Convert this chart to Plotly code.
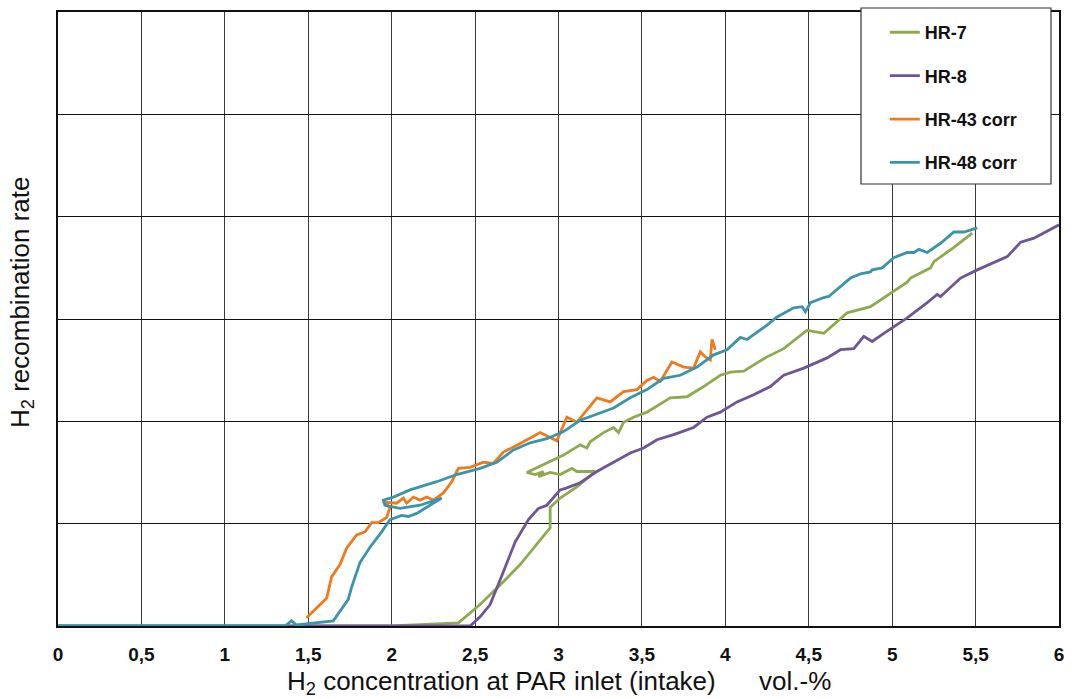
import plotly.graph_objects as go

# HR-7
hr7_x = [0, 2.0, 2.40, 2.53, 2.65, 2.77, 2.95, 2.95, 3.01, 3.11, 3.22, 3.11, 3.08, 3.01, 2.95, 2.88, 2.91, 2.86, 2.81,
         2.93, 3.03, 3.13, 3.17, 3.19, 3.27, 3.33, 3.36, 3.39, 3.45, 3.53, 3.57, 3.67, 3.77, 3.87, 3.97, 4.03, 4.11,
         4.25, 4.35, 4.49, 4.59, 4.73, 4.87, 4.97, 5.09, 5.11, 5.23, 5.25, 5.37, 5.48]
hr7_y = [0, 0, 0.03, 0.21, 0.40, 0.60, 0.96, 1.16, 1.25, 1.36, 1.51, 1.51, 1.54, 1.48, 1.50, 1.46, 1.51, 1.48, 1.50,
         1.59, 1.67, 1.77, 1.74, 1.80, 1.89, 1.94, 1.89, 1.99, 2.04, 2.09, 2.13, 2.23, 2.24, 2.34, 2.45, 2.48, 2.49,
         2.63, 2.71, 2.89, 2.86, 3.06, 3.12, 3.23, 3.36, 3.40, 3.50, 3.56, 3.70, 3.84]

# HR-8
hr8_x = [0, 2.47, 2.53, 2.59, 2.65, 2.74, 2.82, 2.88, 2.93, 3.01, 3.05, 3.13, 3.23, 3.33, 3.43, 3.51, 3.59, 3.69,
         3.81, 3.89, 3.97, 4.07, 4.17, 4.27, 4.35, 4.47, 4.61, 4.69, 4.77, 4.83, 4.88, 4.95, 5.09, 5.21, 5.27, 5.29,
         5.41, 5.51, 5.69, 5.77, 5.85, 6.0]
hr8_y = [0, 0, 0.09, 0.21, 0.45, 0.82, 1.04, 1.15, 1.18, 1.33, 1.35, 1.40, 1.51, 1.60, 1.69, 1.74, 1.82, 1.87,
         1.94, 2.04, 2.09, 2.19, 2.26, 2.34, 2.45, 2.52, 2.62, 2.70, 2.71, 2.83, 2.78, 2.86, 3.01, 3.16, 3.24, 3.22,
         3.40, 3.48, 3.61, 3.75, 3.79, 3.92]

# HR-43 corr
hr43_x = [1.49, 1.55, 1.61, 1.64, 1.69, 1.73, 1.79, 1.84, 1.88, 1.92, 1.97, 1.99, 1.95, 2.03, 2.07, 2.09, 2.13, 2.17,
          2.21, 2.25, 2.31, 2.36, 2.40, 2.47, 2.55, 2.61, 2.67, 2.79, 2.89, 2.99, 3.05, 3.11, 3.23, 3.31, 3.39, 3.47,
          3.53, 3.57, 3.61, 3.68, 3.75, 3.81, 3.85, 3.88, 3.91, 3.92, 3.94]
hr43_y = [0.08, 0.18, 0.27, 0.48, 0.60, 0.76, 0.89, 0.92, 1.01, 1.01, 1.06, 1.16, 1.21, 1.20, 1.25, 1.20, 1.26, 1.23,
          1.26, 1.23, 1.30, 1.41, 1.54, 1.55, 1.60, 1.59, 1.70, 1.80, 1.89, 1.81, 2.04, 1.99, 2.23, 2.19, 2.29, 2.31,
          2.40, 2.43, 2.39, 2.58, 2.53, 2.52, 2.68, 2.63, 2.60, 2.80, 2.70]

# HR-48 corr
hr48_x = [0, 1.36, 1.40, 1.43, 1.65, 1.74, 1.76, 1.81, 1.87, 1.94, 1.99, 2.06, 2.10, 2.15, 2.21, 2.30, 2.17, 2.05,
          1.96, 1.95, 2.01, 2.11, 2.27, 2.39, 2.53, 2.63, 2.73, 2.83, 2.93, 3.03, 3.13, 3.23, 3.33, 3.43, 3.53, 3.63,
          3.73, 3.83, 3.93, 4.01, 4.09, 4.13, 4.25, 4.31, 4.41, 4.46, 4.48, 4.51, 4.59, 4.62, 4.75, 4.81, 4.87, 4.88,
          4.94, 5.01, 5.09, 5.13, 5.16, 5.21, 5.29, 5.37, 5.43, 5.51]
hr48_y = [0, 0, 0.05, 0.01, 0.05, 0.26, 0.38, 0.62, 0.77, 0.92, 1.04, 1.08, 1.07, 1.10, 1.16, 1.25, 1.18, 1.15,
          1.18, 1.23, 1.26, 1.33, 1.41, 1.48, 1.54, 1.60, 1.72, 1.79, 1.83, 1.90, 2.01, 2.07, 2.13, 2.23, 2.31, 2.42,
          2.45, 2.53, 2.65, 2.70, 2.82, 2.80, 2.94, 3.02, 3.11, 3.12, 3.07, 3.16, 3.21, 3.22, 3.40, 3.44, 3.46, 3.48,
          3.50, 3.60, 3.65, 3.65, 3.68, 3.65, 3.74, 3.85, 3.85, 3.89]

x_title = "H<sub>2</sub> concentration at PAR inlet (intake)" + "\u00a0" * 6 + "vol.-%"
y_title = "H<sub>2</sub> recombination rate"

series = [
    ("HR-7", hr7_x, hr7_y, "#8DAA4F"),
    ("HR-8", hr8_x, hr8_y, "#6E5596"),
    ("HR-43 corr", hr43_x, hr43_y, "#EE7A1B"),
    ("HR-48 corr", hr48_x, hr48_y, "#3A94AC"),
]

fig = go.Figure()
for i, (name, xs, ys, col) in enumerate(series):
    fig.add_trace(go.Scatter(x=xs, y=ys, mode="lines", name=name, legendgroup=str(i),
                             line=dict(color=col, width=2.8)))

font_family = "Liberation Sans, Arial, sans-serif"
W, H = 1073, 699
ML, MR, MT, MB = 58, 14, 12, 73

fig.update_layout(
    width=W, height=H,
    margin=dict(l=ML, r=MR, t=MT, b=MB, autoexpand=False),
    paper_bgcolor="white", plot_bgcolor="white",
    separators=", ",
    font=dict(family=font_family, color="#111111"),
    showlegend=True,
    legend=dict(x=0.826, y=0.9967, xanchor="left", yanchor="top",
                bgcolor="rgba(0,0,0,0)", borderwidth=0,
                font=dict(size=18, family=font_family, weight="bold", color="#111111"),
                tracegroupgap=17, itemwidth=30),
    shapes=[dict(type="rect", xref="paper", yref="paper", x0=0.8022, x1=0.992, y0=0.7199, y1=1.0065,
                 line=dict(color="#333333", width=1.2), fillcolor="white", layer="above")],
    annotations=[
        dict(text=x_title, xref="paper", yref="paper", x=0.5, y=-0.0928, xanchor="center", yanchor="middle",
             showarrow=False, font=dict(size=26, family=font_family, color="#111111")),
        dict(text=y_title, xref="paper", yref="paper", x=-0.036, y=0.5277, xanchor="center", yanchor="middle",
             textangle=-90, showarrow=False, font=dict(size=26, family=font_family, color="#111111")),
    ],
    xaxis=dict(range=[0, 6], dtick=0.5, tick0=0, showgrid=True, gridcolor="#3a3a3a", gridwidth=1,
               showline=True, linecolor="#111111", linewidth=1.5, mirror=True, zeroline=False,
               ticks="", ticklabelstandoff=10,
               tickfont=dict(size=19, family=font_family, weight="bold", color="#111111")),
    yaxis=dict(range=[0, 6], dtick=1, showgrid=True, gridcolor="#111111", gridwidth=1,
               showline=True, linecolor="#111111", linewidth=1.5, mirror=True, zeroline=False,
               showticklabels=False, ticks=""),
)

fig.write_html("out.html", config={"displayModeBar": False},
               post_script="document.body.style.margin='0';document.body.style.overflow='hidden';")
